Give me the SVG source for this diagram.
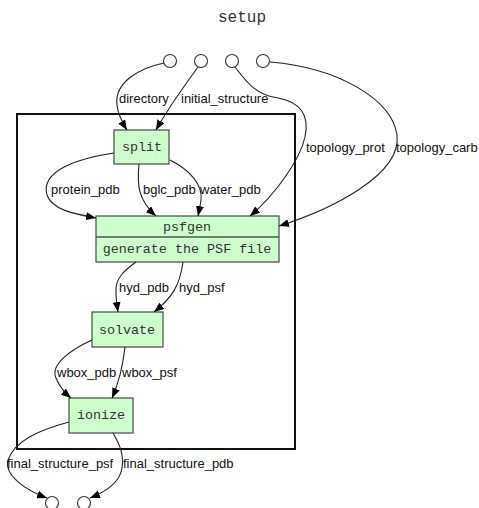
<svg xmlns="http://www.w3.org/2000/svg" width="479" height="508" viewBox="0 0 479 508">
<style>
.node rect{fill:#ccffcc;stroke:#555555;stroke-width:1.3}
.node line{stroke:#555555;stroke-width:1.3}
.mono{font-family:"Liberation Mono","DejaVu Sans Mono",monospace;font-size:13.4px;fill:#333333;text-anchor:middle}
.port{fill:#ffffff;stroke:#333333;stroke-width:1.1}
.edge{fill:none;stroke:#222222;stroke-width:1.1;marker-end:url(#arr)}
.lbl{font-family:"Liberation Sans",Arial,sans-serif;font-size:13px;fill:#111111}
</style>
<defs>
<marker id="arr" markerUnits="userSpaceOnUse" markerWidth="12" markerHeight="10" refX="10" refY="4" orient="auto">
<path d="M0,0 L10,4 L0,8 Z" fill="#000000"/>
</marker>
</defs>
<rect x="0" y="0" width="479" height="508" fill="#ffffff"/>
<text x="242" y="22" class="mono" style="font-size:16px">setup</text>
<rect id="cluster" x="17" y="114" width="278" height="335" fill="none" stroke="#111111" stroke-width="2"/>
<g id="inputs">
<circle class="port" cx="170" cy="61" r="6.5"/>
<circle class="port" cx="201" cy="61" r="6.5"/>
<circle class="port" cx="232" cy="61" r="6.5"/>
<circle class="port" cx="263" cy="61" r="6.5"/>
</g>
<g id="outputs">
<circle class="port" cx="52" cy="503" r="6.5"/>
<circle class="port" cx="84" cy="503" r="6.5"/>
</g>
<g id="split" class="node">
<rect x="114" y="130" width="55" height="34"/>
<text x="142" y="151" class="mono">split</text>
</g>
<g id="psfgen" class="node">
<rect x="96" y="216" width="183" height="46"/>
<line x1="96" y1="237" x2="279" y2="237"/>
<text x="187" y="231" class="mono">psfgen</text>
<text x="187" y="253" class="mono">generate the PSF file</text>
</g>
<g id="solvate" class="node">
<rect x="92" y="312" width="71" height="35"/>
<text x="127" y="334" class="mono">solvate</text>
</g>
<g id="ionize" class="node">
<rect x="69" y="398" width="64" height="35"/>
<text x="101" y="419" class="mono">ionize</text>
</g>
<g id="edges">
<path class="edge" d="M164,63 C140,68 114,82 117,105 C118,115 122,122 127,130"/>
<path class="edge" d="M198,67 C185,85 168,108 156,130"/>
<path class="edge" d="M235,67 C245,80 255,95 278,98 C300,102 310,115 305,137 C300,160 275,195 250,216"/>
<path class="edge" d="M270,62 C340,68 392,100 397,135 C402,175 330,210 279,226"/>
<path class="edge" d="M114,153 C80,158 40,170 47,195 C52,210 75,214 96,218"/>
<path class="edge" d="M139,164 C137,185 138,200 156,216"/>
<path class="edge" d="M170,160 C190,170 203,185 201,200 C200,207 199,211 198,216"/>
<path class="edge" d="M136,262 C125,270 115,278 116,292 C116,300 117,305 118,312"/>
<path class="edge" d="M183,262 C180,285 172,298 154,312"/>
<path class="edge" d="M92,340 C70,350 50,365 56,378 C60,388 65,393 71,398"/>
<path class="edge" d="M125,347 C123,365 120,380 112,398"/>
<path class="edge" d="M69,422 C40,430 15,440 8,460 C4,475 25,490 47,498"/>
<path class="edge" d="M113,433 C120,445 124,455 122,468 C120,482 105,492 90,498"/>
</g>
<g id="labels">
<text class="lbl" x="119" y="103">directory</text>
<text class="lbl" x="181" y="103">initial_structure</text>
<text class="lbl" x="306" y="152">topology_prot</text>
<text class="lbl" x="396" y="152">topology_carb</text>
<text class="lbl" x="51" y="194">protein_pdb</text>
<text class="lbl" x="143" y="194">bglc_pdb</text>
<text class="lbl" x="200" y="194">water_pdb</text>
<text class="lbl" x="119" y="292">hyd_pdb</text>
<text class="lbl" x="179" y="292">hyd_psf</text>
<text class="lbl" x="57" y="377">wbox_pdb</text>
<text class="lbl" x="122" y="377">wbox_psf</text>
<text class="lbl" x="7" y="468">final_structure_psf</text>
<text class="lbl" x="123" y="468">final_structure_pdb</text>
</g>
</svg>
